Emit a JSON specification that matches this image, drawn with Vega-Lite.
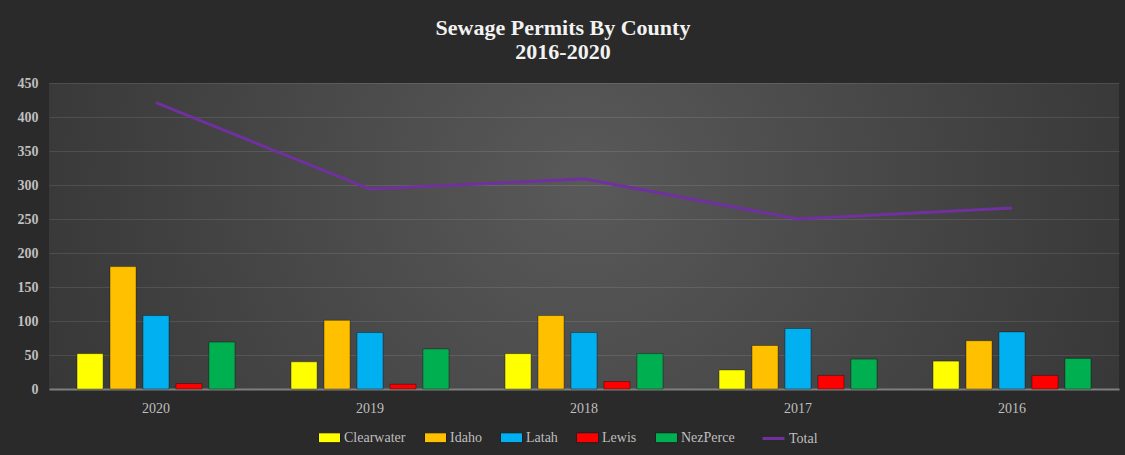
{
  "$schema": "https://vega.github.io/schema/vega-lite/v6.json",
  "width": 1070,
  "height": 306,
  "autosize": {"type": "none"},
  "padding": {"left": 49, "top": 83, "right": 6, "bottom": 66},
  "background": "#2a2a2a",
  "config": {
    "font": "Liberation Serif",
    "view": {"stroke": null}
  },
  "view": {
    "stroke": null,
    "fill": {
      "gradient": "radial",
      "x1": 0.5, "y1": 0.45, "r1": 0,
      "x2": 0.5, "y2": 0.45, "r2": 0.75,
      "stops": [
        {"offset": 0, "color": "#595959"},
        {"offset": 1, "color": "#2a2a2a"}
      ]
    }
  },
  "title": {
    "text": ["Sewage Permits By County", "2016-2020"],
    "font": "Liberation Serif",
    "fontSize": 22,
    "fontWeight": "bold",
    "lineHeight": 24,
    "color": "#f2f2f2",
    "anchor": "middle",
    "dx": -21,
    "offset": 12
  },
  "data": {
    "values": [
      {"year": "2020", "county": "Clearwater", "permits": 52},
      {"year": "2020", "county": "Idaho", "permits": 180},
      {"year": "2020", "county": "Latah", "permits": 108},
      {"year": "2020", "county": "Lewis", "permits": 8},
      {"year": "2020", "county": "NezPerce", "permits": 69},
      {"year": "2020", "county": "Total", "permits": 421},
      {"year": "2019", "county": "Clearwater", "permits": 40},
      {"year": "2019", "county": "Idaho", "permits": 101},
      {"year": "2019", "county": "Latah", "permits": 83},
      {"year": "2019", "county": "Lewis", "permits": 7},
      {"year": "2019", "county": "NezPerce", "permits": 59},
      {"year": "2019", "county": "Total", "permits": 294},
      {"year": "2018", "county": "Clearwater", "permits": 52},
      {"year": "2018", "county": "Idaho", "permits": 108},
      {"year": "2018", "county": "Latah", "permits": 83},
      {"year": "2018", "county": "Lewis", "permits": 11},
      {"year": "2018", "county": "NezPerce", "permits": 52},
      {"year": "2018", "county": "Total", "permits": 309},
      {"year": "2017", "county": "Clearwater", "permits": 28},
      {"year": "2017", "county": "Idaho", "permits": 64},
      {"year": "2017", "county": "Latah", "permits": 89},
      {"year": "2017", "county": "Lewis", "permits": 20},
      {"year": "2017", "county": "NezPerce", "permits": 44},
      {"year": "2017", "county": "Total", "permits": 250},
      {"year": "2016", "county": "Clearwater", "permits": 41},
      {"year": "2016", "county": "Idaho", "permits": 71},
      {"year": "2016", "county": "Latah", "permits": 84},
      {"year": "2016", "county": "Lewis", "permits": 20},
      {"year": "2016", "county": "NezPerce", "permits": 45},
      {"year": "2016", "county": "Total", "permits": 266}
    ]
  },
  "encoding": {
    "x": {
      "field": "year",
      "type": "nominal",
      "sort": ["2020", "2019", "2018", "2017", "2016"],
      "scale": {"paddingInner": 0, "paddingOuter": 0},
      "axis": {
        "title": null,
        "labelAngle": 0,
        "labelFont": "Liberation Serif",
        "labelFontSize": 14,
        "labelColor": "#bfbfbf",
        "labelPadding": 12,
        "ticks": false,
        "domainColor": "#7f7f7f",
        "domainWidth": 2,
        "grid": false
      }
    },
    "y": {
      "field": "permits",
      "type": "quantitative",
      "scale": {"domain": [0, 450]},
      "axis": {
        "title": null,
        "values": [0, 50, 100, 150, 200, 250, 300, 350, 400, 450],
        "labelFont": "Liberation Serif",
        "labelFontSize": 14,
        "labelFontWeight": "bold",
        "labelColor": "#bfbfbf",
        "labelPadding": 11,
        "ticks": false,
        "domain": false,
        "gridColor": "#ffffff",
        "gridOpacity": 0.1,
        "gridWidth": 1
      }
    }
  },
  "layer": [
    {
      "transform": [{"filter": "datum.county !== 'Total'"}],
      "mark": {"type": "bar", "stroke": "#000000", "strokeOpacity": 0.35, "strokeWidth": 1},
      "encoding": {
        "xOffset": {
          "field": "county",
          "type": "nominal",
          "sort": ["Clearwater", "Idaho", "Latah", "Lewis", "NezPerce"],
          "scale": {"paddingInner": 0.21, "paddingOuter": 0.85}
        },
        "color": {
          "field": "county",
          "type": "nominal",
          "scale": {
            "domain": ["Clearwater", "Idaho", "Latah", "Lewis", "NezPerce"],
            "range": ["#FFFF00", "#FFC000", "#00B0F0", "#FF0000", "#00B050"]
          },
          "legend": {
            "title": null,
            "orient": "none",
            "direction": "horizontal",
            "legendX": 269,
            "legendY": 343,
            "labelFont": "Liberation Serif",
            "labelFontSize": 14,
            "labelColor": "#bfbfbf",
            "labelOffset": 3,
            "columnPadding": 16,
            "symbolType": "M-1,-0.45L1,-0.45L1,0.45L-1,0.45Z",
            "symbolSize": 484,
            "symbolStrokeColor": "#1f1f1f",
            "symbolStrokeWidth": 1,
            "symbolOpacity": 1
          }
        }
      }
    },
    {
      "transform": [{"filter": "datum.county === 'Total'"}],
      "mark": {"type": "line", "strokeWidth": 3},
      "encoding": {
        "stroke": {
          "field": "county",
          "type": "nominal",
          "scale": {"domain": ["Total"], "range": ["#7030A0"]},
          "legend": {
            "title": null,
            "orient": "none",
            "direction": "horizontal",
            "legendX": 712,
            "legendY": 343,
            "labelFont": "Liberation Serif",
            "labelFontSize": 14,
            "labelColor": "#bfbfbf",
            "labelOffset": 3,
            "symbolType": "stroke",
            "symbolSize": 484,
            "symbolStrokeWidth": 3
          }
        }
      }
    }
  ]
}
